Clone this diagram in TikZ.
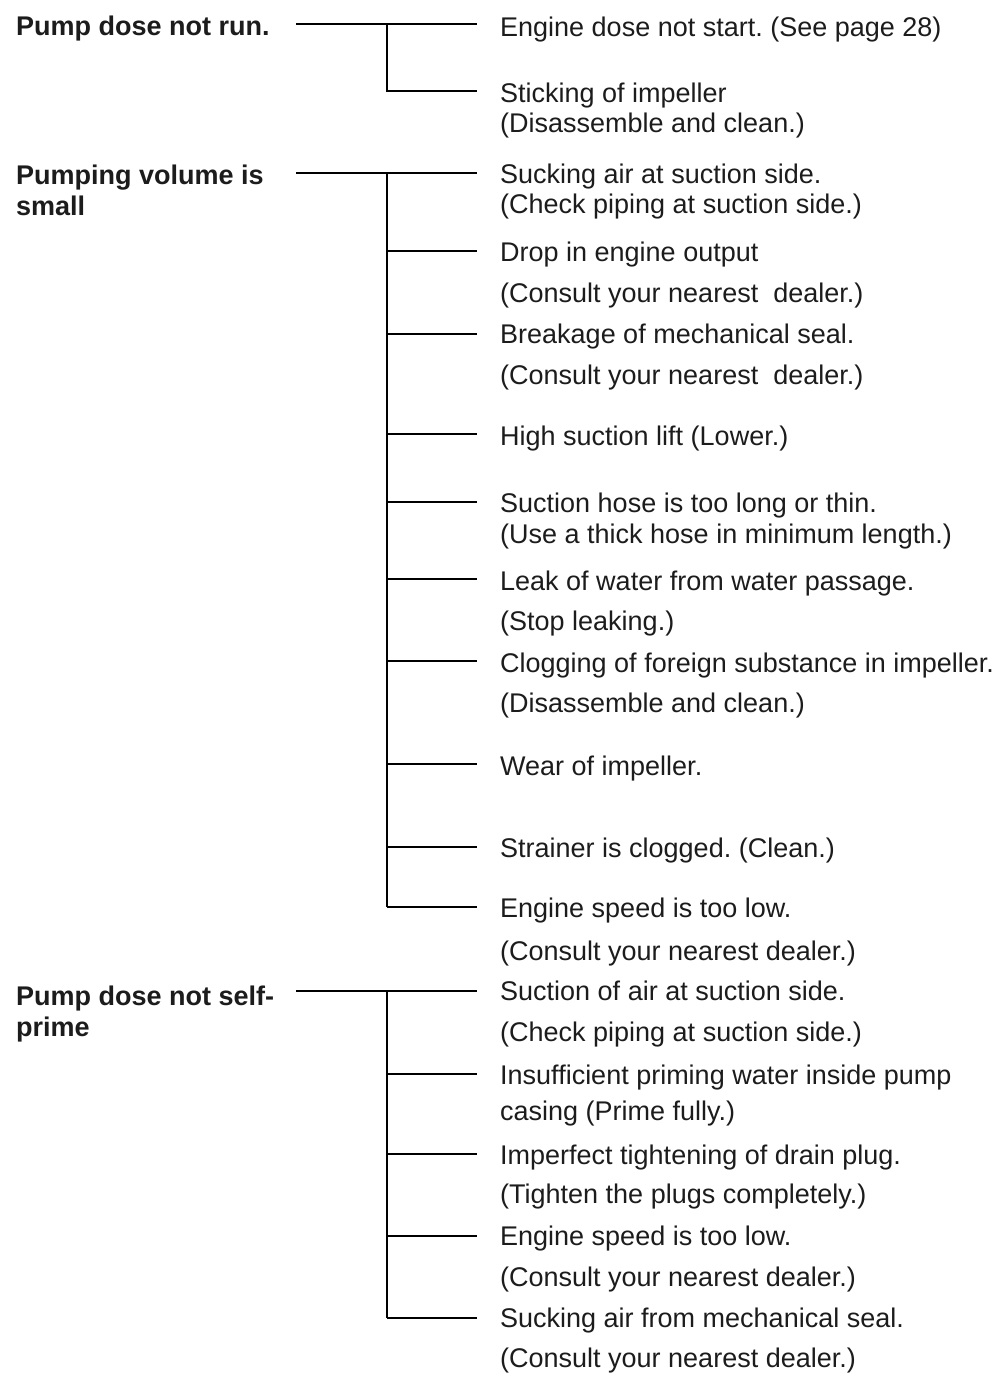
\documentclass[tikz,border=0pt]{standalone}
\usepackage{fontspec}
\setmainfont{Liberation Sans}
\definecolor{ink}{RGB}{28,28,28}
\frenchspacing
\begin{document}
\begin{tikzpicture}[x=1pt,y=-1pt,
  lbl/.style={anchor=base west,inner sep=0pt,font=\fontsize{27}{32}\selectfont\bfseries,text=ink},
  txt/.style={anchor=base west,inner sep=0pt,font=\fontsize{27}{32}\selectfont,text=ink},
  conn/.style={line width=2.4pt,draw=black}]
\useasboundingbox (0,0) rectangle (1001,1382);

% problem labels
\node[lbl] (q1)  at (16,35)   {Pump dose not run.};
\node[lbl] (q2a) at (16,184)  {Pumping volume is};
\node[lbl] (q2b) at (16,215)  {small};
\node[lbl] (q3a) at (16,1005) {Pump dose not self-};
\node[lbl] (q3b) at (16,1036) {prime};

% cause texts
\node[txt] (r1)   at (500,36)   {Engine dose not start. (See page 28)};
\node[txt] (r2a)  at (500,102)  {Sticking of impeller};
\node[txt] (r2b)  at (500,132)  {(Disassemble and clean.)};
\node[txt] (r3a)  at (500,183)  {Sucking air at suction side.};
\node[txt] (r3b)  at (500,213)  {(Check piping at suction side.)};
\node[txt] (r4a)  at (500,261)  {Drop in engine output};
\node[txt] (r4b)  at (500,302)  {(Consult your nearest\ \ dealer.)};
\node[txt] (r5a)  at (500,343)  {Breakage of mechanical seal.};
\node[txt] (r5b)  at (500,384)  {(Consult your nearest\ \ dealer.)};
\node[txt] (r6)   at (500,445)  {High suction lift (Lower.)};
\node[txt] (r7a)  at (500,512)  {Suction hose is too long or thin.};
\node[txt] (r7b)  at (500,543)  {(Use a thick hose in minimum length.)};
\node[txt] (r8a)  at (500,590)  {Leak of water from water passage.};
\node[txt] (r8b)  at (500,630)  {(Stop leaking.)};
\node[txt] (r9a)  at (500,672)  {Clogging of foreign substance in impeller.};
\node[txt] (r9b)  at (500,712)  {(Disassemble and clean.)};
\node[txt] (r10)  at (500,775)  {Wear of impeller.};
\node[txt] (r11)  at (500,857)  {Strainer is clogged. (Clean.)};
\node[txt] (r12a) at (500,917)  {Engine speed is too low.};
\node[txt] (r12b) at (500,960)  {(Consult your nearest dealer.)};
\node[txt] (r13a) at (500,1000) {Suction of air at suction side.};
\node[txt] (r13b) at (500,1041) {(Check piping at suction side.)};
\node[txt] (r14a) at (500,1084) {Insufficient priming water inside pump};
\node[txt] (r14b) at (500,1120) {casing (Prime fully.)};
\node[txt] (r15a) at (500,1164) {Imperfect tightening of drain plug.};
\node[txt] (r15b) at (500,1203) {(Tighten the plugs completely.)};
\node[txt] (r16a) at (500,1245) {Engine speed is too low.};
\node[txt] (r16b) at (500,1286) {(Consult your nearest dealer.)};
\node[txt] (r17a) at (500,1327) {Sucking air from mechanical seal.};
\node[txt] (r17b) at (500,1367) {(Consult your nearest dealer.)};

% group 1 connectors
\coordinate (s1) at (296,24);
\coordinate (j1) at (387,24);
\coordinate (e1) at (477,24);
\coordinate (k1) at (387,91);
\coordinate (f1) at (477,91);
\draw[conn] (s1) -- (e1);
\draw[conn] (j1) -- (k1) -- (f1);

% group 2 connectors
\coordinate (s2) at (296,173);
\coordinate (j2) at (387,173);
\coordinate (e2) at (477,173);
\coordinate (k2) at (387,907);
\draw[conn] (s2) -- (e2);
\foreach \yy [count=\i] in {251,334,434,502,579,661,764,847,907}{
  \coordinate (g2b\i) at (387,\yy);
  \coordinate (g2e\i) at (477,\yy);
  \draw[conn] (g2b\i) -- (g2e\i);
}
\draw[conn] (j2) -- (k2);

% group 3 connectors
\coordinate (s3) at (296,991);
\coordinate (j3) at (387,991);
\coordinate (e3) at (477,991);
\coordinate (k3) at (387,1318);
\draw[conn] (s3) -- (e3);
\foreach \yy [count=\i] in {1074,1154,1236,1318}{
  \coordinate (g3b\i) at (387,\yy);
  \coordinate (g3e\i) at (477,\yy);
  \draw[conn] (g3b\i) -- (g3e\i);
}
\draw[conn] (j3) -- (k3);
\end{tikzpicture}
\end{document}
